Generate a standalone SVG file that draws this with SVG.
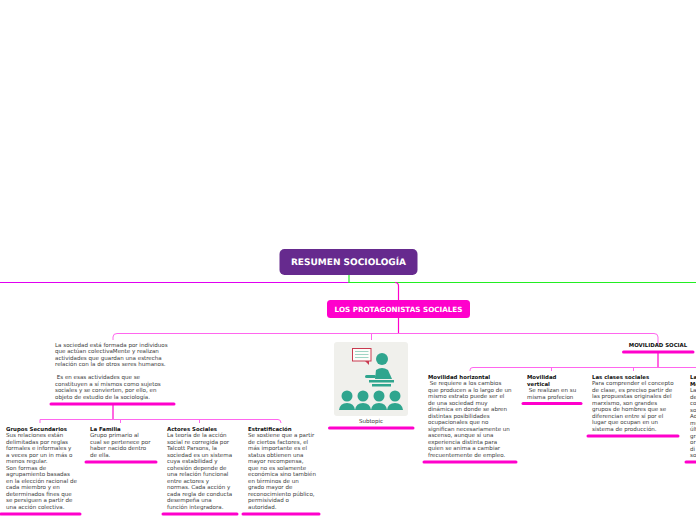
<svg xmlns="http://www.w3.org/2000/svg" width="696" height="520" viewBox="0 0 696 520">
<style>
text{font-family:"DejaVu Sans",Verdana,sans-serif;font-size:5.55px;fill:#3a3a3a;text-rendering:geometricPrecision;white-space:pre}
.h{font-weight:700;fill:#111;font-size:5.4px}
.u{stroke:#ff00cc;stroke-width:3;stroke-linecap:round;fill:none}
.l{stroke:#ff66ee;stroke-width:1;fill:none}
.m{stroke:#ff00cc;stroke-width:1.2;fill:none}
.t{fill:#2fa58e}
</style>
<g id="connectors">
<path d="M0 282.500H349" stroke="#e000f0" stroke-width="1.200" fill="none"/>
<path d="M349 275V282.500H696" stroke="#22ee22" stroke-width="1.200" fill="none"/>
<path class="m" d="M395 282.500Q398.500 282.500 398.500 286V300"/>
<path class="m" d="M398.500 318V333"/>
<path class="l" d="M113 340V337Q113 333.500 117 333.500H654Q658 333.500 658 337V344"/>
<path class="l" d="M371.500 333.500V340"/>
<path class="m" d="M113 404V419.500"/>
<path class="l" d="M40 423V419.500H278Q281 419.500 281 423"/>
<path class="l" d="M120.500 419.500V423M199.500 419.500V423"/>
<path class="m" d="M658 353V367.500"/>
<path class="l" d="M470 371V370Q470 367.500 473 367.500H696"/>
<path class="l" d="M551.500 367.500V371M633.500 367.500V371"/>
</g>
<g id="root">
<rect x="279.500" y="249" width="138" height="26" rx="5" fill="#662a8e"/>
<text x="348.500" y="265" text-anchor="middle" style="font-size:9px;font-weight:700;fill:#fff">RESUMEN SOCIOLOGÍA</text>
</g>
<g id="protagonistas">
<rect x="327" y="300" width="143" height="18" rx="3.500" fill="#ff00cc"/>
<text x="398.500" y="311.800" text-anchor="middle" style="font-size:7.200px;font-weight:700;fill:#fff">LOS PROTAGONISTAS SOCIALES</text>
</g>
<g id="sociedad">
<text x="55" y="347">La sociedad está formada por individuos</text>
<text x="55" y="353.400">que actúan colectivaMente y realizan</text>
<text x="55" y="359.900">actividades que guardan una estrecha</text>
<text x="55" y="366.300">relación con la de otros seres humanos.</text>
<text x="55" y="379.300"> Es en esas actividades que se</text>
<text x="55" y="385.800">constituyen a sí mismos como sujetos</text>
<text x="55" y="392.200">sociales y se convierten, por ello, en</text>
<text x="55" y="398.700">objeto de estudio de la sociología.</text>
<path class="u" d="M51 404H174"/>
</g>
<g id="subtopic">
<rect x="334" y="342" width="74" height="74" rx="3" fill="#f0f0ec"/>
<rect x="352.500" y="348.500" width="18.500" height="12.500" fill="#fdfdfa" stroke="#c93a50" stroke-width="1"/>
<path d="M365 361L369 365V361Z" fill="#c93a50"/>
<path d="M355 351.500H368.500M355 354.500H368.500M355 357.500H368.500" stroke="#9fd4c4" stroke-width="1"/>
<circle class="t" cx="382" cy="359" r="6"/>
<path class="t" d="M375 379L376 370Q382 366 388 370L392 379Z"/>
<rect class="t" x="365" y="375" width="11" height="3" rx="1.500"/>
<rect class="t" x="369" y="380" width="25" height="2.500"/>
<rect class="t" x="372" y="384" width="19" height="2.500"/>
<g class="t">
<circle cx="347" cy="396" r="5.500"/><path d="M339 410Q340 403 347 403Q354 403 355 410Z"/>
<circle cx="363" cy="396" r="5.500"/><path d="M355 410Q356 403 363 403Q370 403 371 410Z"/>
<circle cx="379" cy="396" r="5.500"/><path d="M371 410Q372 403 379 403Q386 403 387 410Z"/>
<circle cx="395" cy="396" r="5.500"/><path d="M387 410Q388 403 395 403Q402 403 403 410Z"/>
</g>
<text x="371" y="423" text-anchor="middle">Subtopic</text>
<path class="u" d="M329.500 428H413"/>
</g>
<g id="grupos">
<text class="h" x="6" y="431">Grupos Secundarios</text>
<text x="6" y="437.300">Sus relaciones están</text>
<text x="6" y="443.800">delimitadas por reglas</text>
<text x="6" y="450.300">formales e informales y</text>
<text x="6" y="456.800">a veces por un in más o</text>
<text x="6" y="463.300">menos regular.</text>
<text x="6" y="469.800">Son formas de</text>
<text x="6" y="476.300">agrupamiento basadas</text>
<text x="6" y="482.800">en la elección racional de</text>
<text x="6" y="489.300">cada miembro y en</text>
<text x="6" y="495.800">determinados fines que</text>
<text x="6" y="502.300">se persiguen a partir de</text>
<text x="6" y="508.800">una acción colectiva.</text>
<path class="u" d="M1 514H80"/>
</g>
<g id="familia">
<text class="h" x="90" y="431">La Familia</text>
<text x="90" y="437.300">Grupo primario al</text>
<text x="90" y="443.800">cual se pertenece por</text>
<text x="90" y="450.300">haber nacido dentro</text>
<text x="90" y="456.800">de ella.</text>
<path class="u" d="M86 462H156"/>
</g>
<g id="actores">
<text class="h" x="167" y="431">Actores Sociales</text>
<text x="167" y="437.300">La teoría de la acción</text>
<text x="167" y="443.800">social re corregida por</text>
<text x="167" y="450.300">Talcott Parsons, la</text>
<text x="167" y="456.800">sociedad es un sistema</text>
<text x="167" y="463.300">cuya estabilidad y</text>
<text x="167" y="469.800">cohesión depende de</text>
<text x="167" y="476.300">una relación funcional</text>
<text x="167" y="482.800">entre actores y</text>
<text x="167" y="489.300">normas. Cada acción y</text>
<text x="167" y="495.800">cada regla de conducta</text>
<text x="167" y="502.300">desempeña una</text>
<text x="167" y="508.800">función integradora.</text>
<path class="u" d="M163 514H237"/>
</g>
<g id="estratificacion">
<text class="h" x="248" y="431">Estratificación</text>
<text x="248" y="437.300">Se sostiene que a partir</text>
<text x="248" y="443.800">de ciertos factores, el</text>
<text x="248" y="450.300">más importante es el</text>
<text x="248" y="456.800">status obtienen una</text>
<text x="248" y="463.300">mayor recompensa,</text>
<text x="248" y="469.800">que no es solamente</text>
<text x="248" y="476.300">económica sino también</text>
<text x="248" y="482.800">en términos de un</text>
<text x="248" y="489.300">grado mayor de</text>
<text x="248" y="495.800">reconocimiento público,</text>
<text x="248" y="502.300">permisividad o</text>
<text x="248" y="508.800">autoridad.</text>
<path class="u" d="M243 514H319"/>
</g>
<g id="movilidad">
<text class="h" x="658" y="347" text-anchor="middle">MOVILIDAD SOCIAL</text>
<path class="u" d="M623.500 352H693"/>
</g>
<g id="horizontal">
<text class="h" x="428" y="379">Movilidad horizontal</text>
<text x="428" y="385.300"> Se requiere a los cambios</text>
<text x="428" y="391.800">que producen a lo largo de un</text>
<text x="428" y="398.300">mismo estrato puede ser el</text>
<text x="428" y="404.800">de una sociedad muy</text>
<text x="428" y="411.300">dinámica en donde se abren</text>
<text x="428" y="417.800">distintas posibilidades</text>
<text x="428" y="424.300">ocupacionales que no</text>
<text x="428" y="430.800">significan necesariamente un</text>
<text x="428" y="437.300">ascenso, aunque sí una</text>
<text x="428" y="443.800">experiencia distinta para</text>
<text x="428" y="450.300">quien se anima a cambiar</text>
<text x="428" y="456.800">frecuentemente de empleo.</text>
<path class="u" d="M424 462H516"/>
</g>
<g id="vertical">
<text class="h" x="527" y="379">Movilidad</text>
<text class="h" x="527" y="385.500">vertical</text>
<text x="527" y="392"> Se realizan en su</text>
<text x="527" y="398.500">misma profecion</text>
<path class="u" d="M523 403.500H581"/>
</g>
<g id="clases">
<text class="h" x="592" y="379">Las clases sociales</text>
<text x="592" y="385.300">Para comprender el concepto</text>
<text x="592" y="391.800">de clase, es preciso partir de</text>
<text x="592" y="398.300">las propuestas originales del</text>
<text x="592" y="404.800">marxismo, son grandes</text>
<text x="592" y="411.300">grupos de hombres que se</text>
<text x="592" y="417.800">diferencian entre sí por el</text>
<text x="592" y="424.300">lugar que ocupan en un</text>
<text x="592" y="430.800">sistema de producción.</text>
<path class="u" d="M588 436H678"/>
</g>
<g id="cortado">
<text class="h" x="690" y="379">La</text>
<text class="h" x="690" y="385.500">Mo</text>
<text x="690" y="392">La</text>
<text x="690" y="398.500">de</text>
<text x="690" y="405">co</text>
<text x="690" y="411.500">so</text>
<text x="690" y="418">Ad</text>
<text x="690" y="424.500">mu</text>
<text x="690" y="431">últ</text>
<text x="690" y="437.500">gra</text>
<text x="690" y="444">or</text>
<text x="690" y="450.500">di</text>
<text x="690" y="457">so</text>
<path class="u" d="M686 462H696"/>
</g>
</svg>
